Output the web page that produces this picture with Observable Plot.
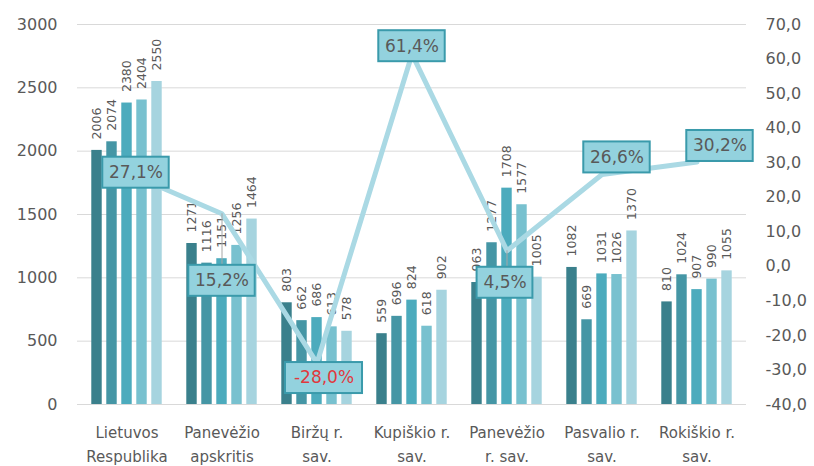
<!DOCTYPE html>
<html><head><meta charset="utf-8">
<script src="https://cdn.jsdelivr.net/npm/d3@7"></script>
<script src="https://cdn.jsdelivr.net/npm/@observablehq/plot@0.6"></script>
<style>html,body{margin:0;padding:0;background:#fff}#chart{width:814px;height:466px;overflow:hidden}</style>
</head><body><div id="chart"></div>
<script>
// ---- data ----
const categories = ["Lietuvos Respublika", "Panevėžio apskritis", "Biržų r. sav.", "Kupiškio r. sav.", "Panevėžio r. sav.", "Pasvalio r. sav.", "Rokiškio r. sav."];
const categoryLabels = ["Lietuvos\nRespublika", "Panevėžio\napskritis", "Biržų r.\nsav.", "Kupiškio r.\nsav.", "Panevėžio\nr. sav.", "Pasvalio r.\nsav.", "Rokiškio r.\nsav."];
const seriesNames = ["S1", "S2", "S3", "S4", "S5"];
const series1 = [2006, 1271, 803, 559, 963, 1082, 810];
const series2 = [2074, 1116, 662, 696, 1277, 669, 1024];
const series3 = [2380, 1151, 686, 824, 1708, 1031, 907];
const series4 = [2404, 1256, 613, 618, 1577, 1026, 990];
const series5 = [2550, 1464, 578, 902, 1005, 1370, 1055];
const changePct = [27.1, 15.2, -28.0, 61.4, 4.5, 26.6, 30.2];
const leftTicks = [0, 500, 1000, 1500, 2000, 2500, 3000];
const rightTicks = [-40, -30, -20, -10, 0, 10, 20, 30, 40, 50, 60, 70];

// ---- layout / style ----
const W = 814, H = 466, mL = 77, mR = 68, mT = 24, mB = 62;
const leftMax = 3000, rMin = -40, rMax = 70;
const toLeft = p => (p - rMin) / (rMax - rMin) * leftMax;
const fromLeft = v => v / leftMax * (rMax - rMin) + rMin;
const colors = ["#3a808c", "#4596a5", "#4cabbd", "#78c1cf", "#a6d4df"];
const bw = (W - mL - mR) / categories.length;
const barW = 11, step = 15;
const groupLeft = (bw - (4 * step + barW)) / 2;
const labelOffsets = [[9, 0], [0, 67], [7, 15], [0, -8], [-2, 32], [15, -17], [23, -16]];
const leaderLabels = [1, 4];
const boxH = 31;
const font = "DejaVu Sans";
const textGray = "#595959";

const allSeries = [series1, series2, series3, series4, series5];
const fmtPct = p => p.toFixed(1).replace(".", ",") + "%";

const marks = [];
marks.push(Plot.gridY(leftTicks, {stroke: "#d9d9d9", strokeOpacity: 1}));

allSeries.forEach((s, i) => {
  const rows = categories.map((c, k) => ({cat: c, v: s[k], series: seriesNames[i]}));
  const left = groupLeft + i * step;
  marks.push(Plot.barY(rows, {x: "cat", y: "v", fill: colors[i], insetLeft: left, insetRight: bw - left - barW}));
});
allSeries.forEach((s, i) => {
  const rows = categories.map((c, k) => ({cat: c, v: s[k]}));
  const left = groupLeft + i * step;
  marks.push(Plot.text(rows, {x: "cat", y: "v", text: d => String(d.v), rotate: -90, textAnchor: "start",
    dx: left + barW / 2 - bw / 2, dy: -11, fontSize: 12.5, fill: textGray}));
});

const changeRows = categories.map((c, k) => ({cat: c, p: changePct[k]}));
marks.push(Plot.line(changeRows, {x: "cat", y: d => toLeft(d.p), stroke: "#aad9e4", strokeWidth: 5}));

changeRows.forEach((row, j) => {
  const [dx, dy] = labelOffsets[j];
  const label = fmtPct(row.p);
  const boxW = label.length * 10.6 + 14;
  const yv = toLeft(row.p);
  if (leaderLabels.includes(j)) {
    marks.push(Plot.ruleX([row], {x: "cat", y1: yv, y2: yv, insetBottom: -(dy - boxH / 2), stroke: "#a6a6a6", strokeWidth: 1}));
  }
  marks.push(Plot.barY([row], {x: "cat", y1: yv, y2: yv, insetLeft: (bw - boxW) / 2, insetRight: (bw - boxW) / 2,
    insetTop: -boxH / 2, insetBottom: -boxH / 2, dx, dy, fill: "#93d2de", stroke: "#3a9aab", strokeWidth: 2}));
  marks.push(Plot.text([row], {x: "cat", y: yv, text: () => label, dx, dy, fontSize: 17,
    fill: row.p < 0 ? "#e0393e" : textGray}));
});

marks.push(Plot.axisY(leftTicks, {anchor: "left", tickSize: 0, tickPadding: 20, fontSize: 16, fill: textGray, label: null,
  tickFormat: v => String(v)}));
marks.push(Plot.axisY(rightTicks.map(toLeft), {anchor: "right", tickSize: 0, tickPadding: 19, fontSize: 16, fill: textGray, label: null,
  tickFormat: v => Math.round(fromLeft(v)).toFixed(1).replace(".", ",")}));
marks.push(Plot.text(categories, {x: d => d, text: d => categoryLabels[categories.indexOf(d)], frameAnchor: "bottom",
  lineAnchor: "top", dy: 16, lineHeight: 1.6, fontSize: 15, fill: textGray}));

const chart = Plot.plot({
  width: W, height: H, marginLeft: mL, marginRight: mR, marginTop: mT, marginBottom: mB,
  style: {fontFamily: font, background: "#fff"},
  x: {domain: categories, padding: 0, axis: null},
  y: {domain: [0, leftMax], axis: null},
  marks
});
document.getElementById("chart").appendChild(chart);
</script>
</body></html>
